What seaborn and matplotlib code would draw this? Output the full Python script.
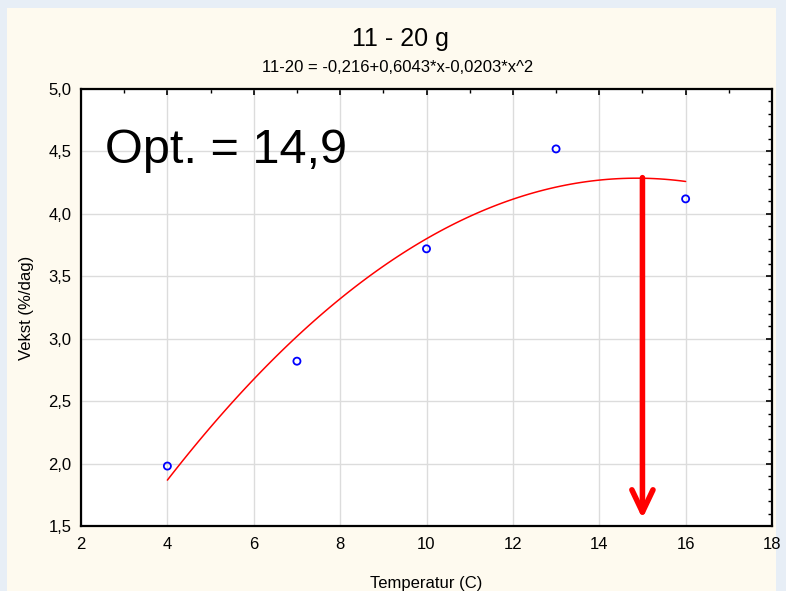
import matplotlib
matplotlib.use("Agg")
import matplotlib.pyplot as plt
import matplotlib.patches as mpatches
from matplotlib.ticker import MultipleLocator
import seaborn as sns
import pandas as pd

# measured points
temperature = [4, 7, 10, 13, 16]
growth = [1.98, 2.82, 3.72, 4.52, 4.12]

title = "11 - 20 g"
subtitle = "11-20 = -0,216+0,6043*x-0,0203*x^2"
opt_label = "Opt. = 14,9"
arrow_x = 15
arrow_top = 4.29
arrow_bottom = 1.56

x_ticks = [2, 4, 6, 8, 10, 12, 14, 16, 18]
y_ticks = [1.5, 2.0, 2.5, 3.0, 3.5, 4.0, 4.5, 5.0]

df = pd.DataFrame({"Temperatur": temperature, "Vekst": growth})

sns.set_style("white")
plt.rcParams["font.family"] = ["Liberation Sans", "DejaVu Sans"]
plt.rcParams["text.color"] = "black"
plt.rcParams["axes.labelcolor"] = "black"
plt.rcParams["xtick.color"] = "black"
plt.rcParams["ytick.color"] = "black"

fig = plt.figure(figsize=(7.86, 5.91), dpi=100)
fig.patch.set_facecolor("#e7eef6")
fig.patches.append(mpatches.Rectangle((7 / 786, 0), 769 / 786, 583 / 591,
                                      transform=fig.transFigure, facecolor="#fefaef",
                                      edgecolor="none", zorder=-10))

ax = fig.add_axes([81 / 786, 1 - 526 / 591, 691 / 786, 437 / 591])
ax.set_facecolor("white")

# quadratic fit through the points
sns.regplot(data=df, x="Temperatur", y="Vekst", order=2, ci=None, scatter=False,
            truncate=True, ax=ax, line_kws={"color": "red", "linewidth": 1.1})
sns.scatterplot(data=df, x="Temperatur", y="Vekst", ax=ax, marker="o", s=26,
                facecolors="none", edgecolor="blue", linewidth=1.3, zorder=5)

ax.annotate("", xy=(arrow_x, arrow_bottom), xytext=(arrow_x, arrow_top),
            arrowprops=dict(arrowstyle="->,head_length=0.8,head_width=0.38",
                            mutation_scale=20, color="red", lw=4,
                            shrinkA=0, shrinkB=0), zorder=6)

ax.text(0.035, 0.83, opt_label, transform=ax.transAxes, fontsize=35, color="black")

ax.set_xlim(2, 18)
ax.set_ylim(1.5, 5.0)
ax.set_xticks(x_ticks)
ax.set_xticklabels([str(t) for t in x_ticks])
ax.set_yticks(y_ticks)
ax.set_yticklabels([f"{t:.1f}".replace(".", ",") for t in y_ticks])
ax.xaxis.set_minor_locator(MultipleLocator(1))
ax.yaxis.set_minor_locator(MultipleLocator(0.1))
ax.tick_params(which="both", direction="in", top=True, right=True, color="black",
               labelsize=12)
ax.tick_params(axis="x", pad=8)
ax.tick_params(axis="y", pad=7)
ax.tick_params(which="major", length=4, width=1.2)
ax.tick_params(which="minor", length=3, width=1)
ax.grid(True, which="major", color="#dcdcdc", linewidth=1)
ax.set_axisbelow(True)
for sp in ax.spines.values():
    sp.set_color("black")
    sp.set_linewidth(1.6)

ax.set_xlabel("Temperatur (C)", fontsize=12, labelpad=17)
ax.set_ylabel("Vekst (%/dag)", fontsize=12, labelpad=10)

fig.text(0.509, 1 - 39 / 591, title, ha="center", va="center", fontsize=18)
fig.text(0.506, 1 - 68 / 591, subtitle, ha="center", va="center", fontsize=12)

fig.savefig("out.png", dpi=100, facecolor=fig.get_facecolor())
